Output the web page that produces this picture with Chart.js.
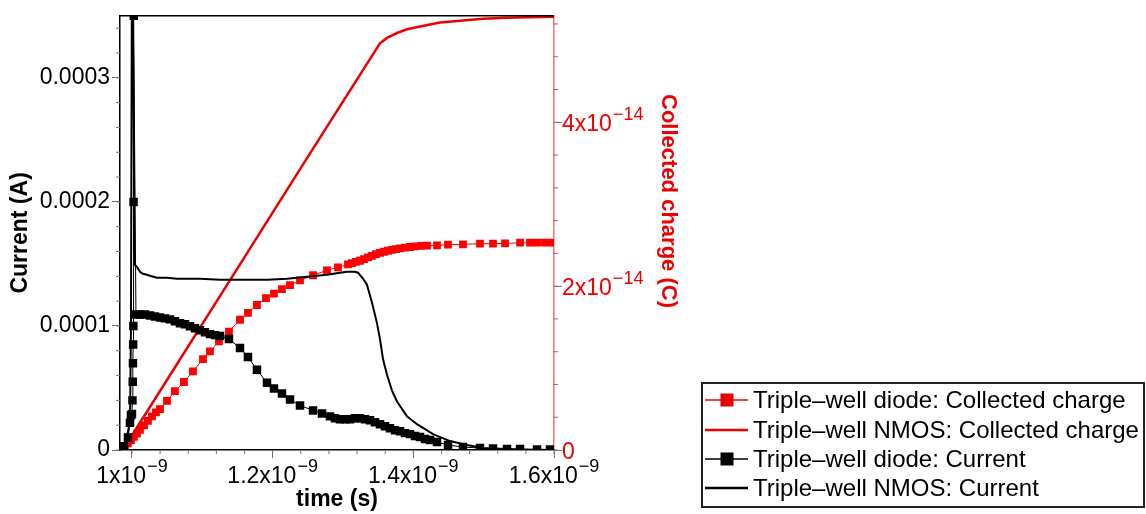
<!DOCTYPE html>
<html>
<head>
<meta charset="utf-8">
<script src="https://cdn.jsdelivr.net/npm/chart.js@4/dist/chart.umd.min.js"></script>
<style>
  html, body { margin: 0; padding: 0; background: #fff; }
  canvas { display: block; }
</style>
</head>
<body>
<canvas id="chart" width="1146" height="514"></canvas>
<script>
// units used in the arrays below
const NS = 1e-9;    // time in ns
const UA = 1e-4;    // current in 1e-4 A
const FQ = 1e-14;   // charge in 1e-14 C

// Triple-well diode: Collected charge (red squares)
const diodeChargeT = [0.9858, 0.9900, 0.9943, 0.9986, 1.0028, 1.0071, 1.0114, 1.0171, 1.0227, 1.0284,
  1.0341, 1.0398, 1.0498, 1.0611, 1.0739, 1.0867, 1.1010, 1.1109, 1.1237, 1.1379,
  1.1536, 1.1649, 1.1777, 1.1905, 1.2019, 1.2133, 1.2247, 1.2389, 1.2574, 1.2773,
  1.2929, 1.3071, 1.3128, 1.3185, 1.3242, 1.3299, 1.3356, 1.3412, 1.3469, 1.3526,
  1.3583, 1.3640, 1.3697, 1.3754, 1.3811, 1.3882, 1.3953, 1.4024, 1.4109, 1.4194,
  1.4337, 1.4493, 1.4706, 1.4948, 1.5133, 1.5304, 1.5517, 1.5659, 1.5759, 1.5872, 1.5972];
const diodeChargeQ = [0, 0.04, 0.08, 0.12, 0.16, 0.20, 0.245, 0.30, 0.355, 0.41,
  0.46, 0.50, 0.60, 0.72, 0.83, 0.96, 1.11, 1.205, 1.325, 1.446,
  1.59, 1.675, 1.77, 1.855, 1.91, 1.964, 2.012, 2.07, 2.133, 2.193,
  2.229, 2.265, 2.28, 2.295, 2.31, 2.33, 2.35, 2.37, 2.39, 2.405,
  2.42, 2.432, 2.442, 2.452, 2.46, 2.47, 2.478, 2.485, 2.492, 2.494,
  2.497, 2.506, 2.51, 2.518, 2.518, 2.522, 2.53, 2.53, 2.53, 2.53, 2.53];

// Triple-well NMOS: Collected charge (red line)
const nmosChargeT = [0.9870, 1.0500, 1.1500, 1.2500, 1.3526, 1.3626, 1.3768, 1.3910, 1.4095, 1.4379,
  1.4664, 1.4991, 1.5332, 1.5801, 1.6000];
const nmosChargeQ = [0, 0.857, 2.217, 3.577, 4.964, 5.03, 5.09, 5.135, 5.169, 5.217,
  5.241, 5.265, 5.277, 5.286, 5.289];

// Triple-well diode: Current (black squares)
const diodeCurrentT = [0.9829, 0.9886, 0.9943, 0.9972, 0.9986, 1.0000, 1.0007, 1.0011, 1.0014, 1.0017,
  1.0020, 1.0023, 1.0026, 1.0057, 1.0114, 1.0185, 1.0256, 1.0327, 1.0398,
  1.0469, 1.0540, 1.0611, 1.0683, 1.0754, 1.0825, 1.0896, 1.0967, 1.1038, 1.1109,
  1.1180, 1.1251, 1.1379, 1.1536, 1.1649, 1.1777, 1.1920, 1.2019, 1.2133, 1.2247,
  1.2389, 1.2574, 1.2702, 1.2815, 1.2886, 1.2957, 1.3029, 1.3100, 1.3171, 1.3242,
  1.3313, 1.3384, 1.3455, 1.3526, 1.3597, 1.3668, 1.3740, 1.3811, 1.3882, 1.3953,
  1.4024, 1.4095, 1.4166, 1.4237, 1.4337, 1.4493, 1.4706, 1.4948, 1.5133, 1.5332,
  1.5517, 1.5759, 1.5943];
const diodeCurrentI = [0, 0.03, 0.10, 0.22, 0.28, 0.29, 0.40, 0.55, 0.70, 0.85,
  1.00, 2.00, 3.50, 1.093, 1.093, 1.093, 1.085, 1.077, 1.069,
  1.061, 1.053, 1.037, 1.021, 1.014, 0.998, 0.982, 0.966, 0.950, 0.934,
  0.926, 0.918, 0.894, 0.822, 0.750, 0.646, 0.543, 0.495, 0.455, 0.407,
  0.359, 0.319, 0.295, 0.271, 0.255, 0.247, 0.247, 0.247, 0.255, 0.255,
  0.247, 0.239, 0.223, 0.208, 0.192, 0.176, 0.160, 0.152, 0.136, 0.128,
  0.112, 0.104, 0.088, 0.080, 0.064, 0.040, 0.024, 0.016, 0.012, 0.008,
  0.008, 0.004, 0.004];

// Triple-well NMOS: Current (black line)
const nmosCurrentT = [0.9829, 0.9872, 0.9929, 0.9972, 0.9986, 1.0000, 1.0021, 1.0036, 1.0043, 1.0071,
  1.0114, 1.0156, 1.0213, 1.0256, 1.0355, 1.0498, 1.0640, 1.0967, 1.1251, 1.1436,
  1.1920, 1.2204, 1.2488, 1.2773, 1.2957, 1.3057, 1.3171, 1.3213, 1.3285, 1.3341,
  1.3412, 1.3484, 1.3526, 1.3569, 1.3626, 1.3697, 1.3768, 1.3910, 1.4052, 1.4280,
  1.4522, 1.4763, 1.4991, 1.5474, 1.6000];
const nmosCurrentI = [0, 0, 0.10, 0.24, 1.0, 4.0, 3.0, 1.6, 1.492, 1.476,
  1.437, 1.421, 1.413, 1.405, 1.389, 1.389, 1.381, 1.381, 1.373, 1.373,
  1.373, 1.381, 1.397, 1.413, 1.429, 1.437, 1.437, 1.429, 1.381, 1.333,
  1.189, 1.021, 0.894, 0.734, 0.607, 0.479, 0.391, 0.271, 0.208, 0.128,
  0.072, 0.040, 0.016, 0.004, 0];

const seriesNames = [
  'Triple\u2013well diode: Collected charge',
  'Triple\u2013well NMOS: Collected charge',
  'Triple\u2013well diode: Current',
  'Triple\u2013well NMOS: Current',
];

// axes
const xTicks = [1.0, 1.2, 1.4, 1.6];          // ns
const xTickText = ['1', '1.2', '1.4', '1.6'];
const xExponent = '\u22129';
const yTicks = [0, 0.0001, 0.0002, 0.0003];   // A
const yTickText = ['0', '0.0001', '0.0002', '0.0003'];
const y2Ticks = [0, 2, 4];                     // 1e-14 C
const y2TickText = ['0', '2', '4'];
const y2Exponent = '\u221214';
const y2Title = 'Collected charge (C)';

const RED = 'rgb(238,0,0)';
const FONT = '"Liberation Sans", Arial, Helvetica, sans-serif';
Chart.defaults.font.family = FONT;

function toPoints(ts, vs, unit) {
  return ts.map((t, i) => ({ x: t * NS, y: vs[i] * unit }));
}

// draws "mx10^e" with a raised exponent
function drawSci(ctx, mant, exp, x, y, align, color) {
  const base = exp ? mant + 'x10' : mant;
  ctx.fillStyle = color;
  ctx.textBaseline = 'alphabetic';
  ctx.textAlign = 'left';
  ctx.font = `23px ${FONT}`;
  const w1 = ctx.measureText(base).width + (exp ? 1 : 0);
  ctx.font = `18px ${FONT}`;
  const w2 = exp ? ctx.measureText(exp).width : 0;
  let sx = align === 'center' ? x - (w1 + w2) / 2 : x;
  ctx.font = `23px ${FONT}`;
  ctx.fillText(base, sx, y);
  if (exp) {
    ctx.font = `18px ${FONT}`;
    ctx.fillText(exp, sx + w1, y - 11);
  }
}

const axesPlugin = {
  id: 'axesExtras',
  afterDraw(chart) {
    const ctx = chart.ctx;
    const area = chart.chartArea;
    const sx = chart.scales.x, sy = chart.scales.y, sy2 = chart.scales.y2;
    ctx.save();

    // top frame line
    ctx.strokeStyle = '#000';
    ctx.lineWidth = 1.5;
    ctx.beginPath();
    ctx.moveTo(area.left, area.top);
    ctx.lineTo(area.right, area.top);
    ctx.stroke();

    // minor ticks
    ctx.strokeStyle = '#777';
    ctx.lineWidth = 1;
    ctx.beginPath();
    for (let k = 0; k <= 15; k++) {
      const px = sx.getPixelForValue((1.0 + k * 0.04) * NS);
      ctx.moveTo(px, area.bottom); ctx.lineTo(px, area.bottom + 4);
    }
    for (let k = 0; k <= 17; k++) {
      const py = sy.getPixelForValue(k * 0.00002);
      ctx.moveTo(area.left - 4, py); ctx.lineTo(area.left, py);
    }
    for (let k = 0; k <= 13; k++) {
      const py = sy2.getPixelForValue(k * 0.4 * FQ);
      ctx.moveTo(area.right, py); ctx.lineTo(area.right + 4, py);
    }
    ctx.stroke();

    // x tick labels
    xTicks.forEach((v, i) => {
      drawSci(ctx, xTickText[i], xExponent, sx.getPixelForValue(v * NS), 483, 'center', '#000');
    });
    // right tick labels
    y2Ticks.forEach((v, i) => {
      const py = sy2.getPixelForValue(v * FQ);
      drawSci(ctx, y2TickText[i], v === 0 ? '' : y2Exponent, area.right + 8, py + 9, 'left', RED);
    });

    // right axis title
    ctx.save();
    ctx.translate(668, 201);
    ctx.rotate(Math.PI / 2);
    ctx.fillStyle = RED;
    ctx.font = `bold 22px ${FONT}`;
    ctx.textAlign = 'center';
    ctx.textBaseline = 'middle';
    ctx.fillText(y2Title, 0, 0);
    ctx.restore();

    // legend
    const lx = 702, ly = 383, lw = 442, lh = 124;
    ctx.strokeStyle = '#222';
    ctx.lineWidth = 2;
    ctx.strokeRect(lx, ly, lw, lh);
    const rowY = [400, 430, 459, 488];
    const styles = [
      { color: RED, width: 1.5, square: true },
      { color: RED, width: 2.5, square: false },
      { color: '#000', width: 1.5, square: true },
      { color: '#000', width: 2.5, square: false },
    ];
    rowY.forEach((y, i) => {
      const s = styles[i];
      ctx.strokeStyle = s.color;
      ctx.lineWidth = s.width;
      ctx.beginPath();
      ctx.moveTo(705, y); ctx.lineTo(748, y);
      ctx.stroke();
      if (s.square) {
        ctx.fillStyle = s.color;
        ctx.fillRect(727 - 6.5, y - 6.5, 13, 13);
      }
      ctx.fillStyle = '#000';
      ctx.font = `24px ${FONT}`;
      ctx.textAlign = 'left';
      ctx.textBaseline = 'middle';
      ctx.fillText(seriesNames[i], 753, y + 1);
    });

    ctx.restore();
  },
};

new Chart(document.getElementById('chart'), {
  type: 'line',
  data: {
    datasets: [
      {
        label: seriesNames[0],
        data: toPoints(diodeChargeT, diodeChargeQ, FQ),
        yAxisID: 'y2',
        borderColor: RED,
        borderWidth: 1,
        pointStyle: 'rect',
        pointRadius: 5.5,
        pointBackgroundColor: 'rgb(255,0,0)',
        pointBorderWidth: 0,
        clip: 0,
        order: 4,
      },
      {
        label: seriesNames[1],
        data: toPoints(nmosChargeT, nmosChargeQ, FQ),
        yAxisID: 'y2',
        borderColor: RED,
        borderWidth: 2.5,
        pointRadius: 0,
        clip: 0,
        order: 3,
      },
      {
        label: seriesNames[2],
        data: toPoints(diodeCurrentT, diodeCurrentI, UA),
        yAxisID: 'y',
        borderColor: '#000',
        borderWidth: 1,
        pointStyle: 'rect',
        pointRadius: 6,
        pointBackgroundColor: '#000',
        pointBorderWidth: 0,
        clip: 0,
        order: 2,
      },
      {
        label: seriesNames[3],
        data: toPoints(nmosCurrentT, nmosCurrentI, UA),
        yAxisID: 'y',
        borderColor: '#000',
        borderWidth: 2,
        pointRadius: 0,
        clip: 0,
        order: 1,
      },
    ],
  },
  options: {
    responsive: false,
    animation: false,
    events: [],
    layout: { padding: { top: 10, left: 0, right: 465, bottom: 0 } },
    plugins: {
      legend: { display: false },
      tooltip: { enabled: false },
    },
    scales: {
      x: {
        type: 'linear',
        min: 0.983 * NS,
        max: 1.6 * NS,
        afterBuildTicks: (s) => { s.ticks = xTicks.map((v) => ({ value: v * NS })); },
        afterFit: (s) => { s.height = 64; },
        ticks: { display: false },
        grid: { drawOnChartArea: false, tickLength: 8, tickColor: '#777' },
        border: { color: '#000', width: 1.5 },
        title: {
          display: true,
          text: 'time (s)',
          color: '#000',
          font: { size: 23, weight: 'bold' },
          padding: { top: 0, bottom: 1 },
        },
      },
      y: {
        type: 'linear',
        position: 'left',
        min: 0,
        max: 0.00035,
        afterBuildTicks: (s) => { s.ticks = yTicks.map((v) => ({ value: v })); },
        afterFit: (s) => { s.width = 120; },
        ticks: {
          color: '#000',
          font: { size: 23 },
          padding: 2,
          callback: (v, i) => yTickText[i],
        },
        grid: { drawOnChartArea: false, tickLength: 8, tickColor: '#777' },
        border: { color: '#000', width: 1.5 },
        title: {
          display: true,
          text: 'Current (A)',
          color: '#000',
          font: { size: 23, weight: 'bold' },
          padding: { top: 7, bottom: 0 },
        },
      },
      y2: {
        type: 'linear',
        position: 'right',
        min: 0,
        max: 5.3 * FQ,
        afterBuildTicks: (s) => { s.ticks = y2Ticks.map((v) => ({ value: v * FQ })); },
        afterFit: (s) => { s.width = 127; },
        ticks: { display: false },
        grid: { drawOnChartArea: false, tickLength: 8, tickColor: '#777' },
        border: { color: 'rgb(232,120,120)', width: 1.5 },
        title: { display: false },
      },
    },
  },
  plugins: [axesPlugin],
});
</script>
</body>
</html>
